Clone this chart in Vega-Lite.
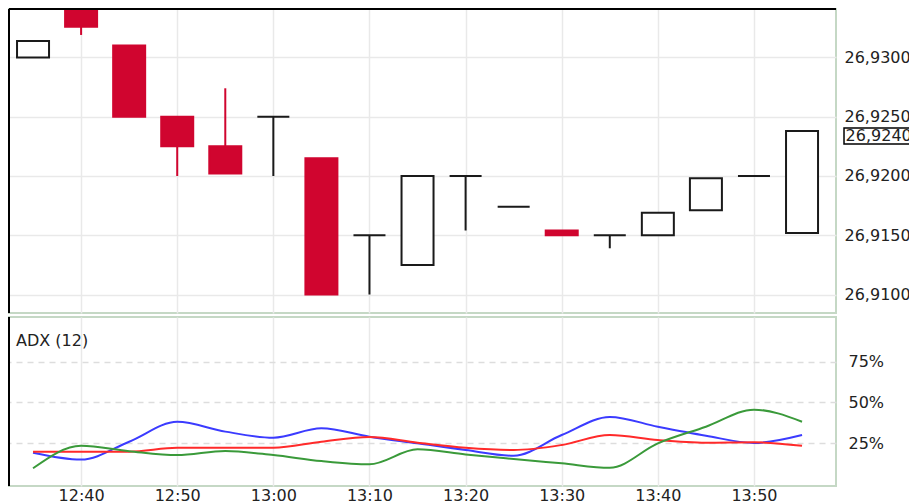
{
  "$schema": "https://vega.github.io/schema/vega-lite/v6.json",
  "background": "white",
  "padding": {"left": 7, "top": 7, "right": 0, "bottom": 0},
  "spacing": 0,
  "datasets": {
    "candles": [
      {"t": "2024-01-01T12:35:00", "open": 26.9300, "high": 26.9314, "low": 26.9300, "close": 26.9314},
      {"t": "2024-01-01T12:40:00", "open": 26.9350, "high": 26.9350, "low": 26.9319, "close": 26.9326},
      {"t": "2024-01-01T12:45:00", "open": 26.9310, "high": 26.9310, "low": 26.9250, "close": 26.9250},
      {"t": "2024-01-01T12:50:00", "open": 26.9250, "high": 26.9250, "low": 26.9200, "close": 26.9225},
      {"t": "2024-01-01T12:55:00", "open": 26.9225, "high": 26.9274, "low": 26.9202, "close": 26.9202},
      {"t": "2024-01-01T13:00:00", "open": 26.9250, "high": 26.9250, "low": 26.9200, "close": 26.9250},
      {"t": "2024-01-01T13:05:00", "open": 26.9215, "high": 26.9215, "low": 26.9100, "close": 26.9100},
      {"t": "2024-01-01T13:10:00", "open": 26.9150, "high": 26.9150, "low": 26.9100, "close": 26.9150},
      {"t": "2024-01-01T13:15:00", "open": 26.9125, "high": 26.9200, "low": 26.9125, "close": 26.9200},
      {"t": "2024-01-01T13:20:00", "open": 26.9200, "high": 26.9200, "low": 26.9154, "close": 26.9200},
      {"t": "2024-01-01T13:25:00", "open": 26.9174, "high": 26.9174, "low": 26.9174, "close": 26.9174},
      {"t": "2024-01-01T13:30:00", "open": 26.9154, "high": 26.9154, "low": 26.9150, "close": 26.9150},
      {"t": "2024-01-01T13:35:00", "open": 26.9150, "high": 26.9150, "low": 26.9139, "close": 26.9150},
      {"t": "2024-01-01T13:40:00", "open": 26.9150, "high": 26.9169, "low": 26.9150, "close": 26.9169},
      {"t": "2024-01-01T13:45:00", "open": 26.9171, "high": 26.9198, "low": 26.9171, "close": 26.9198},
      {"t": "2024-01-01T13:50:00", "open": 26.9200, "high": 26.9200, "low": 26.9200, "close": 26.9200},
      {"t": "2024-01-01T13:55:00", "open": 26.9152, "high": 26.9238, "low": 26.9152, "close": 26.9238}
    ],
    "adx": [
      {"t": "2024-01-01T12:35:00", "series": "+DI", "value": 19.0},
      {"t": "2024-01-01T12:40:00", "series": "+DI", "value": 14.8},
      {"t": "2024-01-01T12:45:00", "series": "+DI", "value": 25.8},
      {"t": "2024-01-01T12:50:00", "series": "+DI", "value": 38.0},
      {"t": "2024-01-01T12:55:00", "series": "+DI", "value": 32.0},
      {"t": "2024-01-01T13:00:00", "series": "+DI", "value": 28.3},
      {"t": "2024-01-01T13:05:00", "series": "+DI", "value": 34.0},
      {"t": "2024-01-01T13:10:00", "series": "+DI", "value": 28.9},
      {"t": "2024-01-01T13:15:00", "series": "+DI", "value": 24.8},
      {"t": "2024-01-01T13:20:00", "series": "+DI", "value": 20.7},
      {"t": "2024-01-01T13:25:00", "series": "+DI", "value": 17.2},
      {"t": "2024-01-01T13:30:00", "series": "+DI", "value": 29.9},
      {"t": "2024-01-01T13:35:00", "series": "+DI", "value": 41.0},
      {"t": "2024-01-01T13:40:00", "series": "+DI", "value": 35.0},
      {"t": "2024-01-01T13:45:00", "series": "+DI", "value": 29.5},
      {"t": "2024-01-01T13:50:00", "series": "+DI", "value": 25.0},
      {"t": "2024-01-01T13:55:00", "series": "+DI", "value": 29.9},
      {"t": "2024-01-01T12:35:00", "series": "ADX", "value": 19.7},
      {"t": "2024-01-01T12:40:00", "series": "ADX", "value": 19.7},
      {"t": "2024-01-01T12:45:00", "series": "ADX", "value": 19.7},
      {"t": "2024-01-01T12:50:00", "series": "ADX", "value": 22.1},
      {"t": "2024-01-01T12:55:00", "series": "ADX", "value": 22.1},
      {"t": "2024-01-01T13:00:00", "series": "ADX", "value": 22.1},
      {"t": "2024-01-01T13:05:00", "series": "ADX", "value": 25.8},
      {"t": "2024-01-01T13:10:00", "series": "ADX", "value": 28.7},
      {"t": "2024-01-01T13:15:00", "series": "ADX", "value": 25.2},
      {"t": "2024-01-01T13:20:00", "series": "ADX", "value": 22.1},
      {"t": "2024-01-01T13:25:00", "series": "ADX", "value": 20.7},
      {"t": "2024-01-01T13:30:00", "series": "ADX", "value": 23.8},
      {"t": "2024-01-01T13:35:00", "series": "ADX", "value": 29.9},
      {"t": "2024-01-01T13:40:00", "series": "ADX", "value": 26.8},
      {"t": "2024-01-01T13:45:00", "series": "ADX", "value": 25.2},
      {"t": "2024-01-01T13:50:00", "series": "ADX", "value": 25.5},
      {"t": "2024-01-01T13:55:00", "series": "ADX", "value": 23.3},
      {"t": "2024-01-01T12:35:00", "series": "-DI", "value": 9.5},
      {"t": "2024-01-01T12:40:00", "series": "-DI", "value": 23.3},
      {"t": "2024-01-01T12:45:00", "series": "-DI", "value": 20.0},
      {"t": "2024-01-01T12:50:00", "series": "-DI", "value": 17.6},
      {"t": "2024-01-01T12:55:00", "series": "-DI", "value": 20.1},
      {"t": "2024-01-01T13:00:00", "series": "-DI", "value": 17.6},
      {"t": "2024-01-01T13:05:00", "series": "-DI", "value": 13.9},
      {"t": "2024-01-01T13:10:00", "series": "-DI", "value": 11.9},
      {"t": "2024-01-01T13:15:00", "series": "-DI", "value": 21.1},
      {"t": "2024-01-01T13:20:00", "series": "-DI", "value": 18.0},
      {"t": "2024-01-01T13:25:00", "series": "-DI", "value": 15.2},
      {"t": "2024-01-01T13:30:00", "series": "-DI", "value": 12.5},
      {"t": "2024-01-01T13:35:00", "series": "-DI", "value": 9.8},
      {"t": "2024-01-01T13:40:00", "series": "-DI", "value": 24.8},
      {"t": "2024-01-01T13:45:00", "series": "-DI", "value": 35.0},
      {"t": "2024-01-01T13:50:00", "series": "-DI", "value": 45.5},
      {"t": "2024-01-01T13:55:00", "series": "-DI", "value": 38.1}
    ],
    "lastprice": [{"label": "26,9240"}],
    "panel": [{"label": "ADX (12)"}]
  },
  "vconcat": [
    {
      "width": 827,
      "height": 304,
      "layer": [
        {
          "data": {"name": "candles"},
          "mark": {"type": "rule", "strokeWidth": 2, "clip": true},
          "encoding": {
            "x": {
              "field": "t", "type": "temporal", "title": null,
              "scale": {"domain": [{"year": 2024, "month": 1, "date": 1, "hours": 12, "minutes": 32, "seconds": 30}, {"year": 2024, "month": 1, "date": 1, "hours": 13, "minutes": 58, "seconds": 32}], "nice": false, "padding": 0},
              "axis": {"labels": false, "grid": true, "domain": false, "ticks": false, "labelPadding": 0, "minExtent": 0, "maxExtent": 0,
                "values": [
                  {"year": 2024, "month": 1, "date": 1, "hours": 12, "minutes": 40},
                  {"year": 2024, "month": 1, "date": 1, "hours": 12, "minutes": 50},
                  {"year": 2024, "month": 1, "date": 1, "hours": 13, "minutes": 0},
                  {"year": 2024, "month": 1, "date": 1, "hours": 13, "minutes": 10},
                  {"year": 2024, "month": 1, "date": 1, "hours": 13, "minutes": 20},
                  {"year": 2024, "month": 1, "date": 1, "hours": 13, "minutes": 30},
                  {"year": 2024, "month": 1, "date": 1, "hours": 13, "minutes": 40},
                  {"year": 2024, "month": 1, "date": 1, "hours": 13, "minutes": 50}
                ]}
            },
            "y": {
              "field": "low", "type": "quantitative", "title": null,
              "scale": {"domain": [26.90844, 26.93409], "nice": false, "zero": false, "padding": 0},
              "axis": {
                "orient": "right", "values": [26.91, 26.915, 26.92, 26.925, 26.93],
                "labelExpr": "'26,' + substring(format(datum.value, '.4f'), 3)",
                "labelPadding": 8, "grid": true, "domain": false, "ticks": false, "zindex": 0
              }
            },
            "y2": {"field": "high"},
            "stroke": {"condition": {"test": "datum.close < datum.open", "value": "#d0052f"}, "value": "#1a1a1a"}
          }
        },
        {
          "data": {"name": "candles"},
          "mark": {"type": "bar", "size": 32, "strokeWidth": 2, "clip": true},
          "encoding": {
            "x": {"field": "t", "type": "temporal"},
            "y": {"field": "open", "type": "quantitative"},
            "y2": {"field": "close"},
            "fill": {"condition": {"test": "datum.close < datum.open", "value": "#d0052f"}, "value": "white"},
            "stroke": {"condition": {"test": "datum.close < datum.open", "value": "#d0052f"}, "value": "#1a1a1a"}
          }
        },
        {
          "data": {"name": "lastprice"},
          "mark": {"type": "rule", "stroke": "black", "strokeWidth": 2},
          "encoding": {"x": {"datum": {"year": 2024, "month": 1, "date": 1, "hours": 12, "minutes": 32, "seconds": 30}, "type": "temporal"}}
        },
        {
          "data": {"name": "lastprice"},
          "mark": {"type": "rule", "stroke": "black", "strokeWidth": 2},
          "encoding": {"y": {"datum": 26.93409, "type": "quantitative"}}
        },
        {
          "data": {"name": "lastprice"},
          "mark": {"type": "rect", "fill": "white", "stroke": "black", "strokeWidth": 1.5, "clip": false},
          "encoding": {
            "x": {"datum": {"year": 2024, "month": 1, "date": 1, "hours": 13, "minutes": 59, "seconds": 22}, "type": "temporal"},
            "x2": {"datum": {"year": 2024, "month": 1, "date": 1, "hours": 14, "minutes": 8, "seconds": 0}},
            "y": {"datum": 26.92405, "type": "quantitative"},
            "y2": {"datum": 26.9227}
          }
        },
        {
          "data": {"name": "lastprice"},
          "mark": {"type": "text", "align": "left", "baseline": "middle", "font": "DejaVu Sans", "fontSize": 16, "color": "#222222", "clip": false},
          "encoding": {
            "text": {"field": "label"},
            "x": {"datum": {"year": 2024, "month": 1, "date": 1, "hours": 13, "minutes": 59, "seconds": 32}, "type": "temporal"},
            "y": {"datum": 26.92335, "type": "quantitative"}
          }
        }
      ]
    },
    {
      "width": 827,
      "height": 169,
      "layer": [
        {
          "data": {"name": "adx"},
          "mark": {"type": "line", "interpolate": "monotone", "strokeWidth": 2, "clip": true},
          "encoding": {
            "x": {
              "field": "t", "type": "temporal", "title": null,
              "scale": {"domain": [{"year": 2024, "month": 1, "date": 1, "hours": 12, "minutes": 32, "seconds": 30}, {"year": 2024, "month": 1, "date": 1, "hours": 13, "minutes": 58, "seconds": 32}], "nice": false, "padding": 0},
              "axis": {"format": "%H:%M", "grid": true, "domain": false, "ticks": false, "labelPadding": 1,
                "values": [
                  {"year": 2024, "month": 1, "date": 1, "hours": 12, "minutes": 40},
                  {"year": 2024, "month": 1, "date": 1, "hours": 12, "minutes": 50},
                  {"year": 2024, "month": 1, "date": 1, "hours": 13, "minutes": 0},
                  {"year": 2024, "month": 1, "date": 1, "hours": 13, "minutes": 10},
                  {"year": 2024, "month": 1, "date": 1, "hours": 13, "minutes": 20},
                  {"year": 2024, "month": 1, "date": 1, "hours": 13, "minutes": 30},
                  {"year": 2024, "month": 1, "date": 1, "hours": 13, "minutes": 40},
                  {"year": 2024, "month": 1, "date": 1, "hours": 13, "minutes": 50}
                ]}
            },
            "y": {
              "field": "value", "type": "quantitative", "title": null,
              "scale": {"domain": [-1.4, 102.4], "nice": false, "zero": false},
              "axis": {"orient": "right", "values": [25, 50, 75], "labelExpr": "datum.value + '%'", "labelPadding": 12, "grid": true, "gridDash": [6, 5], "gridColor": "#dddddd", "domain": false, "ticks": false}
            },
            "color": {"field": "series", "type": "nominal", "legend": null,
              "scale": {"domain": ["-DI", "ADX", "+DI"], "range": ["#3a9a3a", "#ff2a2a", "#3b3bff"]}}
          }
        },
        {
          "data": {"name": "panel"},
          "mark": {"type": "rule", "stroke": "black", "strokeWidth": 2},
          "encoding": {"x": {"datum": {"year": 2024, "month": 1, "date": 1, "hours": 12, "minutes": 32, "seconds": 30}, "type": "temporal"}}
        },
        {
          "data": {"name": "panel"},
          "mark": {"type": "text", "align": "left", "baseline": "alphabetic", "font": "DejaVu Sans", "fontSize": 16, "color": "#222222"},
          "encoding": {
            "text": {"field": "label"},
            "x": {"datum": {"year": 2024, "month": 1, "date": 1, "hours": 12, "minutes": 33, "seconds": 14}, "type": "temporal"},
            "y": {"datum": 84.6, "type": "quantitative"}
          }
        }
      ]
    }
  ],
  "config": {
    "view": {"stroke": "#c5d8c5", "strokeWidth": 2},
    "axis": {"labelFont": "DejaVu Sans", "labelFontSize": 16, "labelColor": "#222222", "gridColor": "#e9e9e9", "gridWidth": 1.5}
  }
}
